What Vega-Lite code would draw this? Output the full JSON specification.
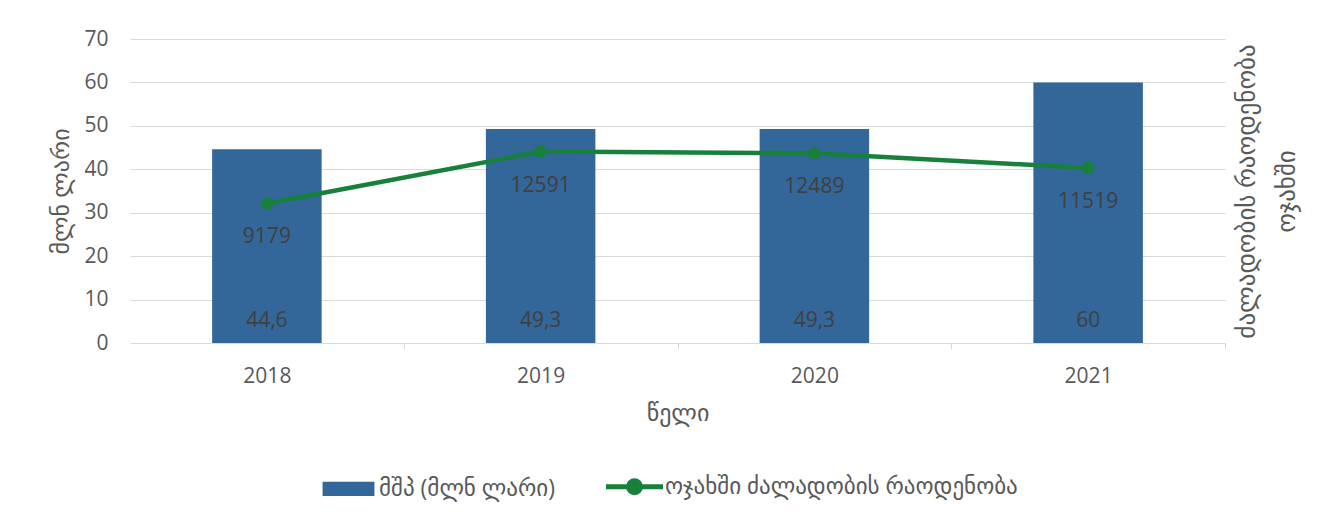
{
  "$schema": "https://vega.github.io/schema/vega-lite/v6.json",
  "width": 1095,
  "height": 304,
  "autosize": {"type": "none"},
  "padding": {"left": 130, "top": 39, "right": 100, "bottom": 178},
  "background": "white",
  "config": {
    "view": {"stroke": null},
    "font": "Open Sans, DejaVu Sans",
    "locale": {"number": {"decimal": ",", "thousands": "", "grouping": [3], "currency": ["", ""]}},
    "legend": {"layout": {"bottom": {"anchor": "middle"}}}
  },
  "data": {
    "values": [
      {"year": "2018", "gdp": 44.6, "cases": 9179},
      {"year": "2019", "gdp": 49.3, "cases": 12591},
      {"year": "2020", "gdp": 49.3, "cases": 12489},
      {"year": "2021", "gdp": 60, "cases": 11519}
    ]
  },
  "encoding": {
    "x": {
      "field": "year",
      "type": "nominal",
      "scale": {"paddingInner": 0.6, "paddingOuter": 0.3},
      "axis": {
        "title": "წელი",
        "labelAngle": 0,
        "labelFontSize": 21,
        "labelColor": "#595959",
        "labelPadding": 16,
        "labelOffset": -136.875,
        "ticks": true,
        "tickOffset": 136.875,
        "tickSize": 6,
        "tickColor": "#d9d9d9",
        "domainColor": "#d9d9d9",
        "grid": false,
        "titleFontSize": 24,
        "titleColor": "#595959",
        "titleFontWeight": "normal",
        "titlePadding": 15
      }
    }
  },
  "layer": [
    {
      "encoding": {
        "y": {
          "field": "gdp",
          "type": "quantitative",
          "scale": {"domain": [0, 70]},
          "axis": {
            "title": "მლნ ლარი",
            "values": [0, 10, 20, 30, 40, 50, 60, 70],
            "labelFontSize": 21,
            "labelColor": "#595959",
            "labelPadding": 22,
            "ticks": false,
            "domain": false,
            "grid": true,
            "gridColor": "#d9d9d9",
            "gridWidth": 1,
            "titleFontSize": 24,
            "titleColor": "#595959",
            "titleFontWeight": "normal",
            "titlePadding": 10
          }
        }
      },
      "layer": [
        {
          "mark": {"type": "bar"},
          "encoding": {
            "color": {
              "datum": "მშპ (მლნ ლარი)",
              "scale": {
                "domain": ["მშპ (მლნ ლარი)", "ოჯახში ძალადობის რაოდენობა"],
                "range": ["#336699", "#17803a"]
              },
              "legend": {
                "title": null,
                "orient": "bottom",
                "direction": "horizontal",
                "offset": 50,
                "symbolSize": 3249,
                "labelFontSize": 23,
                "labelColor": "#595959",
                "labelOffset": 19,
                "labelLimit": 0,
                "columnPadding": 40,
                "encode": {
                  "symbols": {
                    "update": {
                      "shape": {"signal": "datum.value === 'მშპ (მლნ ლარი)' ? 'M-0.91,-0.25H0.91V0.25H-0.91Z' : 'M-1,0H1M0.21,0A0.21,0.21,0,1,1,-0.21,0A0.21,0.21,0,1,1,0.21,0Z'"},
                      "strokeWidth": {"signal": "datum.value === 'მშპ (მლნ ლარი)' ? 0 : 5"},
                      "fill": {"signal": "datum.value === 'მშპ (მლნ ლარი)' ? '#336699' : '#17803a'"},
                      "stroke": {"signal": "datum.value === 'მშპ (მლნ ლარი)' ? '#336699' : '#17803a'"},
                      "opacity": {"value": 1},
                      "fillOpacity": {"value": 1}
                    }
                  }
                }
              }
            }
          }
        },
        {
          "mark": {"type": "text", "dy": -22, "fontSize": 21, "color": "#404040", "baseline": "middle"},
          "encoding": {
            "y": {"datum": 0, "type": "quantitative"},
            "text": {"field": "gdp", "type": "quantitative", "format": ".1~f"}
          }
        }
      ]
    },
    {
      "encoding": {
        "y": {
          "field": "cases",
          "type": "quantitative",
          "scale": {"domain": [0, 20000]},
          "axis": {
            "orient": "right",
            "title": ["ძალადობის რაოდენობა", "ოჯახში"],
            "labels": false,
            "ticks": false,
            "domain": false,
            "grid": false,
            "titleAngle": -90,
            "titleBaseline": "top",
            "titleFontSize": 25,
            "titleLineHeight": 40,
            "titleColor": "#595959",
            "titleFontWeight": "normal",
            "titlePadding": -31
          }
        }
      },
      "layer": [
        {
          "mark": {"type": "line", "strokeWidth": 4.5},
          "encoding": {
            "color": {"datum": "ოჯახში ძალადობის რაოდენობა"}
          }
        },
        {
          "mark": {"type": "point", "filled": true, "size": 160, "opacity": 1},
          "encoding": {
            "color": {"datum": "ოჯახში ძალადობის რაოდენობა"}
          }
        },
        {
          "mark": {"type": "text", "dy": 34, "fontSize": 21, "color": "#404040", "baseline": "middle"},
          "encoding": {
            "text": {"field": "cases", "type": "quantitative", "format": "d"}
          }
        }
      ]
    }
  ],
  "resolve": {"scale": {"y": "independent"}}
}
